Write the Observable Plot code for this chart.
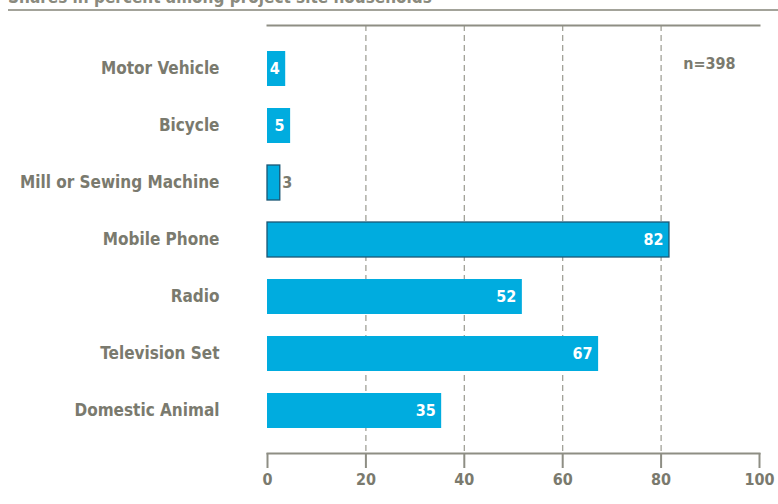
<!DOCTYPE html>
<html>
<head>
<meta charset="utf-8">
<script src="https://cdn.jsdelivr.net/npm/d3@7"></script>
<script src="https://cdn.jsdelivr.net/npm/@observablehq/plot@0.6"></script>
<style>
  body { margin: 0; background: #fff; }
  #wrap { position: relative; width: 778px; height: 504px; overflow: hidden; font-family: "DejaVu Sans Condensed", "DejaVu Sans", sans-serif; }
  #chart { position: absolute; left: 0; top: 0; }
  #title { position: absolute; left: 8px; top: -13px; font-size: 17px; font-weight: bold; color: #8a8a7e; white-space: nowrap; }
  #rule { position: absolute; left: 8px; right: 0; top: 9px; border-top: 2px solid #a3a39a; }
</style>
</head>
<body>
<div id="wrap">
  <div id="chart"></div>
  <div id="title">Shares in percent among project site households</div>
  <div id="rule"></div>
</div>
<script>
const categories = ["Motor Vehicle", "Bicycle", "Mill or Sewing Machine", "Mobile Phone", "Radio", "Television Set", "Domestic Animal"];
const values = [3.7, 4.7, 2.6, 81.7, 51.8, 67.3, 35.4];
const labels = ["4", "5", "3", "82", "52", "67", "35"];
const outlined = ["Mill or Sewing Machine", "Mobile Phone"];
const xTicks = [0, 20, 40, 60, 80, 100];
const gridTicks = [20, 40, 60, 80];
const sampleNote = "n=398";

const data = categories.map((c, i) => ({cat: c, v: values[i], label: labels[i]}));
const grey = "#7a7a6e";
const blue = "#00acdf";

const chart = Plot.plot({
  width: 778,
  height: 504,
  marginLeft: 267,
  marginRight: 19,
  marginTop: 25,
  marginBottom: 51,
  style: {background: "transparent", fontFamily: "'DejaVu Sans Condensed', 'DejaVu Sans', sans-serif"},
  x: {domain: [0, 100]},
  y: {domain: categories, paddingInner: 0.386, paddingOuter: 0.447},
  marks: [
    Plot.gridX(gridTicks, {stroke: "#9a9a90", strokeOpacity: 1, strokeDasharray: "6,4", strokeWidth: 1.2}),
    Plot.frame({anchor: "top", stroke: "#8e8e84", strokeWidth: 2}),
    Plot.frame({anchor: "bottom", stroke: "#8e8e84", strokeWidth: 2}),
    Plot.axisX({anchor: "bottom", ticks: xTicks, tickSize: 15, tickPadding: 5, stroke: "#8e8e84", strokeWidth: 2, fill: grey, fontSize: 16, fontWeight: "bold", label: null}),
    Plot.axisY({tickSize: 0, tickPadding: 48, fill: grey, fontSize: 17, fontWeight: "bold", label: null}),
    Plot.barX(data, {x: "v", y: "cat", fill: blue}),
    Plot.barX(data.filter(d => outlined.includes(d.cat)), {x: "v", y: "cat", fill: blue, stroke: "#1b5674", strokeWidth: 1.3}),
    Plot.text(data.filter(d => d.v >= 3), {x: "v", y: "cat", text: "label", textAnchor: "end", dx: -6, fill: "white", fontSize: 16, fontWeight: "bold"}),
    Plot.text(data.filter(d => d.v < 3), {x: "v", y: "cat", text: "label", textAnchor: "start", dx: 2, fill: grey, fontSize: 16, fontWeight: "bold"}),
    Plot.text([sampleNote], {x: 84.5, frameAnchor: "top", dy: 32, text: d => d, textAnchor: "start", fill: grey, fontSize: 16, fontWeight: "bold"})
  ]
});
document.getElementById("chart").appendChild(chart);
</script>
</body>
</html>
